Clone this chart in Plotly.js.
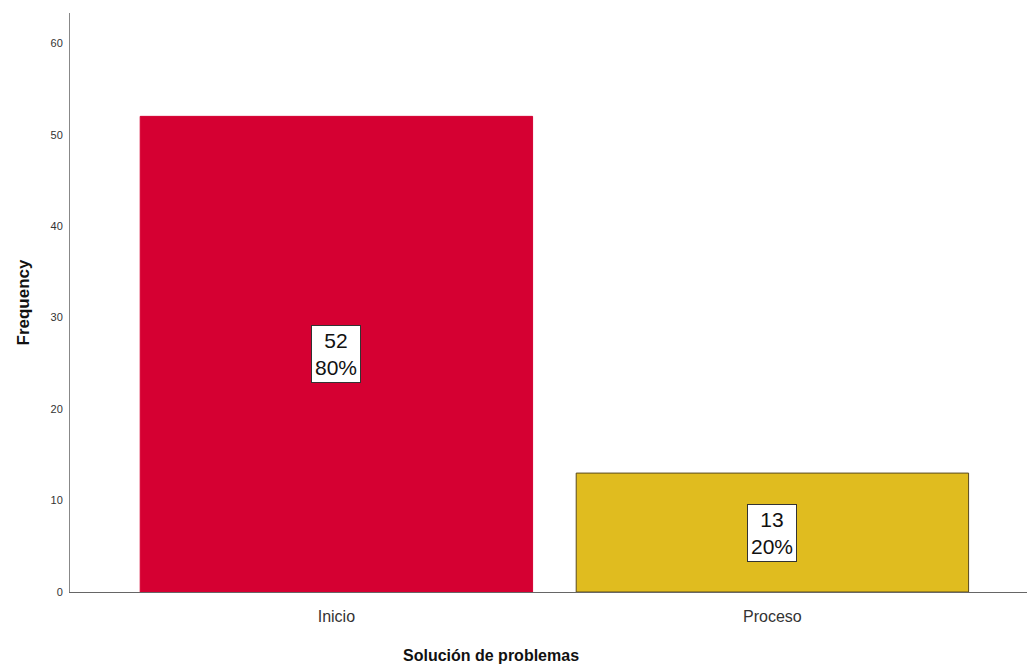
<!DOCTYPE html>
<html>
<head>
<meta charset="utf-8">
<script src="https://cdn.plot.ly/plotly-3.0.1.min.js"></script>
<style>html,body{margin:0;padding:0;background:#fff;}#chart{width:1027px;height:667px;}</style>
</head>
<body>
<div id="chart"></div>
<script>
const categories = ["Inicio", "Proceso"];
const frequencies = [52, 13];
const percentLabels = ["80%", "20%"];
const barColors = ["#d50032", "#e0bc1f"];
const barOutlines = ["#d50032", "#5a4a20"];
const yTicks = [0, 10, 20, 30, 40, 50, 60];

const trace = {
  type: "bar",
  x: categories,
  y: frequencies,
  width: 0.9,
  marker: {color: barColors, line: {color: barOutlines, width: 1}},
  hoverinfo: "none"
};

const annotations = categories.map((c, i) => ({
  x: c, y: frequencies[i] / 2, xref: "x", yref: "y",
  text: frequencies[i] + "<br>" + percentLabels[i],
  showarrow: false,
  font: {family: "Liberation Sans, Arial, sans-serif", size: 21, color: "#111"},
  bgcolor: "#ffffff", bordercolor: "#333", borderwidth: 1, borderpad: 3
}));

annotations.push({
  xref: "paper", yref: "paper", x: 0.44, y: -0.109, yanchor: "middle",
  text: "<b>Solución de problemas</b>", showarrow: false,
  font: {family: "Liberation Sans, Arial, sans-serif", size: 16, color: "#111"}
});

const layout = {
  width: 1027, height: 667,
  margin: {l: 70, r: 0, t: 13, b: 75},
  paper_bgcolor: "#fff", plot_bgcolor: "#fff",
  showlegend: false,
  font: {family: "Liberation Sans, Arial, sans-serif", color: "#222"},
  xaxis: {
    type: "category",
    range: [-0.611, 1.584],
    showline: true, linecolor: "#666", linewidth: 1,
    showgrid: false, zeroline: false, ticks: "",
    tickfont: {size: 16, color: "#333"},
    ticklabelstandoff: 10
  },
  yaxis: {
    range: [0, 63.3],
    tickvals: yTicks,
    showline: true, linecolor: "#888", linewidth: 1,
    showgrid: false, zeroline: false, ticks: "",
    tickfont: {size: 11, color: "#333"},
    ticklabelstandoff: 4,
    title: {text: "<b>Frequency</b>", font: {size: 17, color: "#111"}, standoff: 16}
  },
  annotations: annotations
};

Plotly.newPlot("chart", [trace], layout, {displayModeBar: false, staticPlot: true});
</script>
</body>
</html>
